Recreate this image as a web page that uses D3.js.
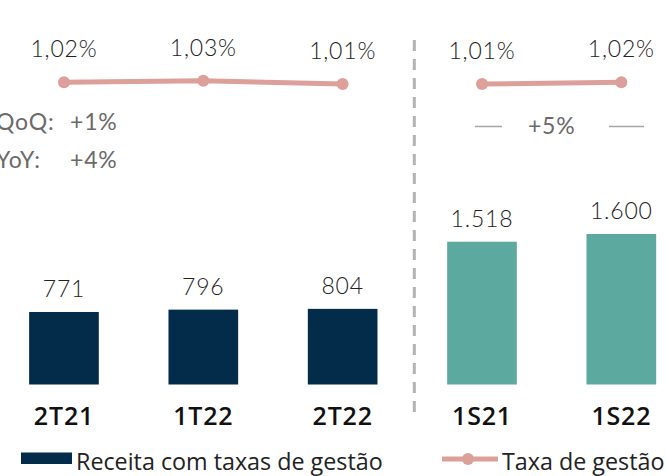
<!DOCTYPE html>
<html>
<head>
<meta charset="utf-8">
<script src="https://cdn.jsdelivr.net/npm/d3@7"></script>
<style>
  body { margin: 0; background: #fff; }
  svg { display: block; }
</style>
</head>
<body>
<svg id="chart"></svg>
<script>
// data
const categories = ['2T21', '1T22', '2T22', '1S21', '1S22'];
const periodGroup = ['tri', 'tri', 'tri', 'sem', 'sem'];
const receita = [771, 796, 804, 1518, 1600];
const taxaGestao = [1.02, 1.03, 1.01, 1.01, 1.02];
const triChanges = [{ label: 'QoQ:', value: '+1%' }, { label: 'YoY:', value: '+4%' }];
const semChange = '+5%';
const legendLabels = ['Receita com taxas de gestão', 'Taxa de gestão'];

const width = 666, height = 476;
const colors = { tri: '#032c4a', sem: '#5caa9f', line: '#dc9f99', grey: '#6a6a6a' };

const ptBR = d3.formatLocale({ decimal: ',', thousands: '.', grouping: [3], currency: ['R$', ''] });
const fmtInt = ptBR.format(',.0f');
const fmtPct = ptBR.format('.2f');

const svg = d3.select('#chart').attr('width', width).attr('height', height);

const rows = categories.map((c, i) => ({ cat: c, group: periodGroup[i], receita: receita[i], taxa: taxaGestao[i] }));

// scales
const x = d3.scaleBand().domain(categories).range([-5.7, 691]).paddingInner(0.5).paddingOuter(0.25);
const y = d3.scaleLinear().domain([0, 1600]).range([384.5, 234]);
const yLine = d3.scaleLinear().domain([1.01, 1.03]).range([84, 80.7]);
const cx = d => x(d.cat) + x.bandwidth() / 2;

const valueFont = '300 23px Lato, sans-serif';

// bars
svg.append('g')
  .selectAll('rect')
  .data(rows)
  .join('rect')
  .attr('x', d => x(d.cat))
  .attr('y', d => y(d.receita))
  .attr('width', x.bandwidth())
  .attr('height', d => y(0) - y(d.receita))
  .attr('fill', d => colors[d.group]);

// bar value labels
svg.append('g')
  .style('font', valueFont)
  .style('letter-spacing', '0.8px')
  .attr('fill', '#222')
  .attr('text-anchor', 'middle')
  .selectAll('text')
  .data(rows)
  .join('text')
  .attr('x', cx)
  .attr('y', d => y(d.receita) - 15)
  .text(d => fmtInt(d.receita));

// separator between quarters and semesters
const sepX = x('2T22') + x.bandwidth() + (x('1S21') - x('2T22') - x.bandwidth()) / 2 + 2;
svg.append('line')
  .attr('x1', sepX).attr('x2', sepX)
  .attr('y1', 40).attr('y2', 420)
  .attr('stroke', '#b3b3b3')
  .attr('stroke-width', 3)
  .attr('stroke-dasharray', '11,8');

// taxa de gestao line, one segment per period group
const line = d3.line().x(cx).y(d => yLine(d.taxa));
const lineG = svg.append('g');
d3.groups(rows, d => d.group).forEach(([g, pts]) => {
  lineG.append('path')
    .datum(pts)
    .attr('d', line)
    .attr('fill', 'none')
    .attr('stroke', colors.line)
    .attr('stroke-width', 5);
});
lineG.selectAll('circle')
  .data(rows)
  .join('circle')
  .attr('cx', cx)
  .attr('cy', d => yLine(d.taxa))
  .attr('r', 6)
  .attr('fill', colors.line);

svg.append('g')
  .style('font', valueFont)
  .style('letter-spacing', '0.8px')
  .attr('fill', '#222')
  .attr('text-anchor', 'middle')
  .selectAll('text')
  .data(rows)
  .join('text')
  .attr('x', cx)
  .attr('y', d => yLine(d.taxa) - 25)
  .text(d => fmtPct(d.taxa) + '%');

// variation notes
const notes = svg.append('g')
  .style('font', '23px Lato, sans-serif')
  .style('letter-spacing', '0.8px')
  .attr('fill', colors.grey);
triChanges.forEach((c, i) => {
  notes.append('text').attr('x', -4).attr('y', 130 + i * 38).text(c.label);
  notes.append('text').attr('x', 70).attr('y', 130 + i * 38).text(c.value);
});
const semMid = (cx(rows[3]) + cx(rows[4])) / 2;
notes.append('text').attr('x', semMid).attr('y', 134).attr('text-anchor', 'middle').text(semChange);
[[475, 502], [609, 644]].forEach(([a, b]) => {
  notes.append('line')
    .attr('x1', a).attr('x2', b)
    .attr('y1', 126.5).attr('y2', 126.5)
    .attr('stroke', '#a6a6a6').attr('stroke-width', 1.5);
});

// category labels
svg.append('g')
  .style('font', '600 25px "Open Sans", sans-serif')
  .style('letter-spacing', '0.8px')
  .attr('fill', '#111')
  .attr('text-anchor', 'middle')
  .selectAll('text')
  .data(rows)
  .join('text')
  .attr('x', cx)
  .attr('y', 425)
  .text(d => d.cat);

// legend
const legend = svg.append('g').style('font', '23.3px "Open Sans", sans-serif').attr('fill', '#222');
legend.append('rect')
  .attr('x', 21).attr('y', 452.5).attr('width', 51).attr('height', 11.5)
  .attr('fill', colors.tri);
legend.append('text').attr('x', 76).attr('y', 470).text(legendLabels[0]);
legend.append('line')
  .attr('x1', 442).attr('x2', 498).attr('y1', 459).attr('y2', 459)
  .attr('stroke', colors.line).attr('stroke-width', 5);
legend.append('circle').attr('cx', 468).attr('cy', 459).attr('r', 6).attr('fill', colors.line);
legend.append('text').attr('x', 502).attr('y', 470).text(legendLabels[1]);
</script>
</body>
</html>
